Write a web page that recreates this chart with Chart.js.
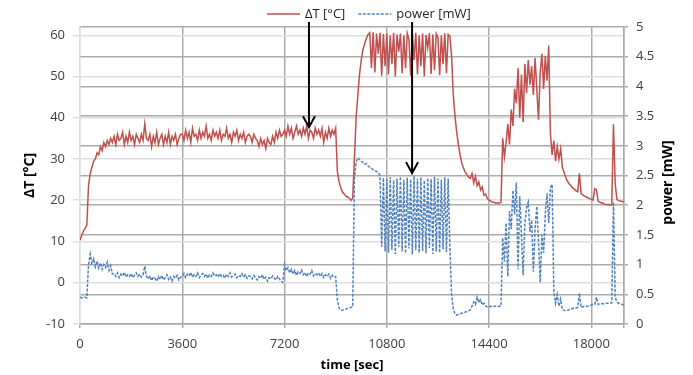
<!DOCTYPE html>
<html lang="en">
<head>
  <meta charset="UTF-8">
  <title>ΔT and power vs time</title>
  <script src="https://cdn.jsdelivr.net/npm/chart.js@4.4.0/dist/chart.umd.min.js"></script>
  <style>
    html, body { margin: 0; padding: 0; background: #fff; }
    #wrap { width: 693px; height: 375px; }
  </style>
</head>
<body>
  <div id="wrap"><canvas id="chart" width="693" height="375"></canvas></div>

  <script>
    // one sample every 60 s, rows of 20 samples (20 min per row)
    const sampleStep = 60;

    const deltaT = [
      10.3, 11.5, 12.5, 13.2, 14, 23.5, 26.5, 28, 29.5, 30, 31.5, 31, 33, 32, 34, 33, 34.5, 33.5, 35, 34,
      35.5, 33.5, 36, 34.5, 35, 36.5, 33.5, 35.5, 34, 36.5, 34.5, 35.5, 33.5, 36, 35, 34, 36, 34.5, 38.5, 35,
      34.5, 36, 33, 35.5, 34, 36.5, 33.5, 35, 36, 33.5, 35.5, 34, 36.5, 33.5, 35.5, 34.5, 36, 33.5, 35, 36,
      36, 34.5, 37, 35, 36.5, 34, 37.5, 35.5, 36, 34.5, 37, 35, 36.5, 35.5, 38, 35, 36, 34.5, 37, 35.5,
      36.5, 35, 37, 34.5, 36, 35.5, 37.5, 35, 36, 34, 36.5, 35.5, 37, 34.5, 36, 35, 36.5, 34, 35.5, 36,
      35.5, 34, 36, 35, 34.5, 33, 35, 33.5, 34.5, 32.5, 35, 34, 33.5, 35.5, 34, 36.5, 35, 37, 35.5, 36,
      37, 35.5, 38, 36, 37.5, 35, 36.5, 38, 36, 37, 35.5, 37.5, 36, 38, 35, 37, 36.5, 35, 37.5, 36,
      37, 35.5, 37.5, 34, 36.5, 35, 37.5, 35.5, 37, 36, 37.5, 27, 24.5, 23, 22, 21.5, 21, 20.8, 20.5, 20,
      20.5, 30, 40, 45.5, 50.5, 54, 56.5, 58, 59.2, 60.2, 60.6, 52, 60.7, 51, 60.4, 55.5, 60.6, 50.2, 60.3, 52.5,
      60.5, 50.5, 60, 53, 60.6, 50, 60.2, 56, 60.4, 50.8, 60, 52, 60.5, 59, 50.2, 60.3, 54, 60.6, 50.5, 60,
      52.5, 60.4, 50, 60.1, 57, 60.5, 50.6, 60.2, 51.5, 60.4, 59.5, 50.3, 60, 53, 60.5, 50.8, 60.2, 59.8, 55, 45.5,
      40.5, 36.5, 33.5, 31, 29, 27.8, 26.8, 26.2, 25.6, 25.3, 26.5, 24.2, 25.8, 23.5, 24.5, 22.5, 23.2, 21.2, 21.5, 20.4,
      20, 19.8, 19.5, 19.5, 19.3, 19.4, 19.3, 19.5, 35, 30.5, 34, 38.5, 33.5, 42, 38, 47, 43.5, 52, 40, 50.5,
      39, 53, 46, 54, 48, 52.5, 45.5, 54.5, 47, 39.5, 51, 55.5, 47, 55, 49, 57.5, 36, 31, 34.5, 29.5,
      33, 30, 32.5, 28, 26.8, 25.5, 24.6, 24, 23.5, 23, 22.7, 22.3, 22.1, 26.5, 21.6, 21.3, 21, 20.8, 20.6, 20.4,
      20.2, 20, 22.8, 22.5, 19.8, 19.5, 19.4, 19.2, 19, 18.9, 19, 18.8, 18.9, 38.4, 24, 20.2, 19.9, 19.8, 19.7, 19.6
    ];

    const power = [
      0.45, 0.44, 0.45, 0.45, 0.44, 1.0, 1.18, 1.02, 1.1, 0.96, 1.06, 0.94, 1.03, 0.92, 1.0, 0.95, 1.04, 0.9, 0.98, 0.84,
      0.85, 0.8, 0.86, 0.78, 0.84, 0.81, 0.87, 0.79, 0.83, 0.8, 0.85, 0.78, 0.82, 0.86, 0.8, 0.84, 0.79, 0.83, 0.97, 0.8,
      0.76, 0.81, 0.73, 0.79, 0.77, 0.72, 0.8, 0.75, 0.82, 0.74, 0.78, 0.83, 0.75, 0.79, 0.72, 0.8, 0.77, 0.82, 0.74, 0.79,
      0.8, 0.85, 0.78, 0.84, 0.81, 0.87, 0.79, 0.83, 0.8, 0.86, 0.78, 0.82, 0.85, 0.8, 0.84, 0.77, 0.83, 0.8, 0.86, 0.81,
      0.83, 0.79, 0.85, 0.8, 0.82, 0.77, 0.84, 0.8, 0.86, 0.79, 0.81, 0.84, 0.78, 0.82, 0.8, 0.85, 0.79, 0.83, 0.77, 0.81,
      0.8, 0.76, 0.82, 0.78, 0.74, 0.8, 0.77, 0.83, 0.75, 0.79, 0.72, 0.78, 0.76, 0.81, 0.77, 0.74, 0.8, 0.76, 0.72, 0.7,
      1.0, 0.9, 0.95, 0.86, 0.92, 0.84, 0.9, 0.82, 0.88, 0.85, 0.91, 0.83, 0.87, 0.8, 0.86, 0.84, 0.9, 0.81, 0.85, 0.83,
      0.86, 0.8, 0.85, 0.78, 0.83, 0.8, 0.84, 0.77, 0.82, 0.79, 0.8, 0.4, 0.27, 0.23, 0.23, 0.24, 0.25, 0.26, 0.27, 0.28,
      0.29, 2.45, 2.72, 2.8, 2.77, 2.74, 2.72, 2.69, 2.7, 2.66, 2.64, 2.62, 2.6, 2.58, 2.57, 2.55, 2.5, 1.3, 2.46, 1.22,
      2.44, 1.2, 2.47, 1.25, 2.42, 1.18, 2.45, 1.3, 2.48, 1.22, 2.43, 1.19, 2.46, 1.27, 2.44, 1.17, 2.49, 1.24, 2.45, 1.2,
      2.47, 1.23, 2.42, 1.19, 2.46, 1.28, 2.44, 1.18, 2.48, 1.22, 2.45, 1.2, 2.43, 1.26, 2.47, 1.21, 2.45, 1.3, 0.5, 0.25,
      0.17, 0.15, 0.16, 0.17, 0.18, 0.19, 0.2, 0.21, 0.22, 0.24, 0.3, 0.37, 0.33, 0.45, 0.36, 0.41, 0.32, 0.35, 0.3, 0.29,
      0.29, 0.3, 0.29, 0.3, 0.3, 0.29, 0.3, 0.3, 1.45, 1.05, 1.7, 0.8, 1.9, 1.6, 2.25, 1.85, 2.38, 0.92, 2.15, 1.5,
      0.82, 1.7, 1.95, 2.05, 1.55, 1.75, 0.88, 1.6, 1.98, 1.4, 0.7, 1.5, 1.2, 1.85, 2.2, 1.7, 2.3, 2.35, 0.55, 0.35,
      0.5, 0.3, 0.42, 0.24, 0.23, 0.22, 0.23, 0.24, 0.25, 0.26, 0.27, 0.27, 0.28, 0.52, 0.28, 0.29, 0.3, 0.3, 0.3, 0.31,
      0.32, 0.33, 0.33, 0.45, 0.33, 0.34, 0.34, 0.34, 0.34, 0.35, 0.35, 0.35, 0.36, 2.05, 0.45, 0.37, 0.35, 0.34, 0.33, 0.32
    ];

    const timeSec = deltaT.map((_, i) => i * sampleStep);

    const timeTicks = [0, 3600, 7200, 10800, 14400, 18000];
    const timeMax = 19150;
    const deltaTTicks = [-10, 0, 10, 20, 30, 40, 50, 60];
    const deltaTRange = [-10, 62];
    const powerTicks = [0, 0.5, 1, 1.5, 2, 2.5, 3, 3.5, 4, 4.5, 5];

    const seriesNames = ['ΔT [°C]', 'power [mW]'];
    const axisTitles = { x: 'time [sec]', left: 'ΔT [°C]', right: 'power [mW]' };

    // arrows pointing from the legend labels down to each curve
    const arrows = [
      { time: 8060, axis: 'yT', value: 37.7 },
      { time: 11690, axis: 'yP', value: 2.54 }
    ];

    const RED = '#C0504D';
    const BLUE = '#4F81BD';
    const GRID_LIGHT = '#dedede';
    const GRID_DARK = '#ababab';
    const TEXT = '#404040';

    Chart.defaults.font.family = "'Open Sans', 'Liberation Sans', sans-serif";
    Chart.defaults.color = TEXT;

    const toPoints = vals => vals.map((v, i) => ({ x: timeSec[i], y: v }));
    const asTicks = vals => vals.map(v => ({ value: v }));

    const legendItems = [
      { label: seriesNames[0], color: RED, dash: [] },
      { label: seriesNames[1], color: BLUE, dash: [3, 1.5] }
    ];

    const decorations = {
      id: 'decorations',
      afterDraw(chart) {
        const { ctx, chartArea, scales } = chart;
        ctx.save();

        // legend
        ctx.font = "13px 'Open Sans', sans-serif";
        ctx.textBaseline = 'middle';
        ctx.textAlign = 'left';
        let x = 267;
        const y = 14;
        legendItems.forEach(item => {
          ctx.strokeStyle = item.color;
          ctx.lineWidth = 1.5;
          ctx.setLineDash(item.dash);
          ctx.beginPath();
          ctx.moveTo(x, y);
          ctx.lineTo(x + 33, y);
          ctx.stroke();
          ctx.setLineDash([]);
          ctx.fillStyle = '#262626';
          ctx.fillText(item.label, x + 38, y);
          x += 38 + ctx.measureText(item.label).width + 13;
        });

        // arrows
        ctx.strokeStyle = '#000';
        ctx.lineWidth = 2;
        arrows.forEach(a => {
          const ax = scales.x.getPixelForValue(a.time);
          const ay = scales[a.axis].getPixelForValue(a.value);
          ctx.beginPath();
          ctx.moveTo(ax, 22);
          ctx.lineTo(ax, ay);
          ctx.moveTo(ax - 6, ay - 11);
          ctx.lineTo(ax, ay);
          ctx.lineTo(ax + 6, ay - 11);
          ctx.stroke();
        });

        // right axis title, reading bottom to top
        ctx.fillStyle = '#000';
        ctx.font = "bold 14px 'Open Sans', sans-serif";
        ctx.textAlign = 'center';
        ctx.translate(668, (chartArea.top + chartArea.bottom) / 2 + 7);
        ctx.rotate(-Math.PI / 2);
        ctx.fillText(axisTitles.right, 0, 0);
        ctx.restore();
      }
    };

    new Chart(document.getElementById('chart'), {
      type: 'line',
      data: {
        datasets: [
          {
            label: seriesNames[0],
            data: toPoints(deltaT),
            yAxisID: 'yT',
            borderColor: RED,
            borderWidth: 1.5,
            pointRadius: 0,
            tension: 0
          },
          {
            label: seriesNames[1],
            data: toPoints(power),
            yAxisID: 'yP',
            borderColor: BLUE,
            borderWidth: 1.5,
            borderDash: [3, 1.5],
            pointRadius: 0,
            tension: 0
          }
        ]
      },
      options: {
        responsive: false,
        animation: false,
        events: [],
        layout: { padding: { top: 27, left: 0, right: 0, bottom: 0 } },
        plugins: {
          legend: { display: false },
          tooltip: { enabled: false }
        },
        scales: {
          x: {
            type: 'linear',
            min: 0,
            max: timeMax,
            afterFit: s => { s.height = 51; },
            afterBuildTicks: s => { s.ticks = asTicks(timeTicks.concat([timeMax])); },
            ticks: {
              padding: 8,
              maxRotation: 0,
              autoSkip: false,
              font: { size: 13 },
              callback: v => (timeTicks.includes(v) ? String(v) : '')
            },
            grid: {
              color: c => (c.tick && c.tick.value === 0 ? GRID_LIGHT : GRID_DARK),
              lineWidth: 1.5,
              tickLength: 4,
              tickColor: GRID_DARK
            },
            border: { color: GRID_DARK, width: 1.5 },
            title: {
              display: true,
              text: axisTitles.x,
              color: '#000',
              font: { size: 13, weight: 'bold' },
              padding: { top: 0, bottom: 2 }
            }
          },
          yT: {
            type: 'linear',
            position: 'left',
            min: deltaTRange[0],
            max: deltaTRange[1],
            afterFit: s => { s.width = 80; },
            afterBuildTicks: s => { s.ticks = asTicks(deltaTTicks); },
            ticks: {
              padding: 8,
              autoSkip: false,
              font: { size: 13 },
              callback: v => String(v)
            },
            grid: {
              color: GRID_LIGHT,
              lineWidth: 1.5,
              tickLength: 7,
              tickColor: GRID_LIGHT
            },
            border: { color: GRID_LIGHT, width: 1.5 },
            title: {
              display: true,
              text: axisTitles.left,
              color: '#000',
              font: { size: 14, weight: 'bold' },
              padding: { top: 22, bottom: 0 }
            }
          },
          yP: {
            type: 'linear',
            position: 'right',
            min: powerTicks[0],
            max: powerTicks[powerTicks.length - 1],
            afterFit: s => { s.width = 69; },
            afterBuildTicks: s => { s.ticks = asTicks(powerTicks); },
            ticks: {
              padding: 8,
              autoSkip: false,
              font: { size: 13 },
              callback: v => String(v)
            },
            grid: {
              color: GRID_DARK,
              lineWidth: 1.5,
              tickLength: 4,
              tickColor: GRID_DARK
            },
            border: { color: GRID_DARK, width: 1.5 }
          }
        }
      },
      plugins: [decorations]
    });
  </script>
</body>
</html>
